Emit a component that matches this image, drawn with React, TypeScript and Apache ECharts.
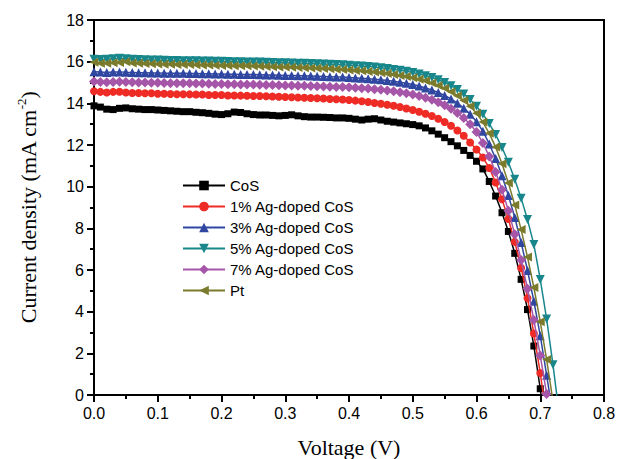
import React, { useEffect, useRef } from "react";
import * as echarts from "echarts";

const voltage = [
  0.0, 0.01, 0.02, 0.03, 0.04, 0.05, 0.06, 0.07, 0.08, 0.09,
  0.1, 0.11, 0.12, 0.13, 0.14, 0.15, 0.16, 0.17, 0.18, 0.19,
  0.2, 0.21, 0.22, 0.23, 0.24, 0.25, 0.26, 0.27, 0.28, 0.29,
  0.3, 0.31, 0.32, 0.33, 0.34, 0.35, 0.36, 0.37, 0.38, 0.39,
  0.4, 0.41, 0.42, 0.43, 0.44, 0.45, 0.46, 0.47, 0.48, 0.49,
  0.5, 0.51, 0.52, 0.53, 0.54, 0.55, 0.56, 0.57, 0.58, 0.59,
  0.6, 0.61, 0.62, 0.63, 0.64, 0.65, 0.66, 0.67, 0.68, 0.69,
  0.7, 0.71, 0.72, 0.73,
];

const seriesNames = [
  "CoS",
  "1% Ag-doped CoS",
  "3% Ag-doped CoS",
  "5% Ag-doped CoS",
  "7% Ag-doped CoS",
  "Pt",
];

const cosJ = [
  13.88, 13.82, 13.72, 13.7, 13.76, 13.78, 13.74, 13.72, 13.7, 13.7,
  13.68, 13.66, 13.64, 13.62, 13.6, 13.6, 13.57, 13.55, 13.52, 13.48,
  13.46, 13.5, 13.58, 13.56, 13.5, 13.46, 13.44, 13.44, 13.42, 13.4,
  13.42, 13.45, 13.4, 13.36, 13.34, 13.34, 13.33, 13.32, 13.3, 13.3,
  13.28, 13.24, 13.2, 13.24, 13.26, 13.2, 13.14, 13.1, 13.06, 13.02,
  12.98, 12.92, 12.82, 12.68, 12.52, 12.35, 12.16, 11.96, 11.74, 11.5,
  11.22, 10.85, 10.25, 9.55, 8.75, 7.85, 6.8, 5.55, 4.1, 2.35,
  0.3, -2.0,
];

const ag1J = [
  14.58, 14.55, 14.52, 14.55, 14.56, 14.52, 14.5, 14.5, 14.48, 14.48,
  14.46, 14.46, 14.45, 14.44, 14.44, 14.43, 14.42, 14.42, 14.4, 14.4,
  14.4, 14.38, 14.38, 14.37, 14.36, 14.35, 14.35, 14.34, 14.33, 14.32,
  14.3, 14.29, 14.28, 14.27, 14.26, 14.24, 14.23, 14.21, 14.2, 14.18,
  14.16, 14.13, 14.1, 14.06, 14.02, 13.98, 13.93, 13.88, 13.82, 13.75,
  13.68, 13.6, 13.5, 13.39, 13.26, 13.1, 12.92, 12.7, 12.44, 12.12,
  11.78, 11.4, 10.9, 10.2, 9.4, 8.45, 7.35, 6.1, 4.65, 2.95,
  1.05, -1.1,
];

const ag3J = [
  15.52, 15.5, 15.48, 15.5, 15.51, 15.49, 15.48, 15.47, 15.47, 15.46,
  15.46, 15.45, 15.45, 15.44, 15.44, 15.43, 15.43, 15.42, 15.42, 15.41,
  15.41, 15.4, 15.4, 15.39, 15.38, 15.38, 15.37, 15.36, 15.36, 15.35,
  15.34, 15.34, 15.33, 15.32, 15.31, 15.3, 15.29, 15.28, 15.27, 15.26,
  15.24, 15.22, 15.2, 15.18, 15.16, 15.13, 15.1, 15.06, 15.01, 14.96,
  14.9, 14.83, 14.74, 14.64, 14.52, 14.38, 14.21, 14.01, 13.77, 13.48,
  13.12, 12.66, 12.05, 11.35, 10.52, 9.58, 8.52, 7.32, 5.98, 4.5,
  2.85, 0.95, -1.0,
];

const ag5J = [
  16.12, 16.1, 16.12, 16.14, 16.16, 16.14, 16.12, 16.1, 16.09, 16.08,
  16.08, 16.07, 16.06, 16.06, 16.05, 16.05, 16.04, 16.03, 16.03, 16.02,
  16.02, 16.01, 16.0, 16.0, 15.99, 15.98, 15.98, 15.97, 15.96, 15.95,
  15.95, 15.94, 15.93, 15.92, 15.91, 15.9, 15.89, 15.88, 15.86, 15.85,
  15.83, 15.81, 15.79, 15.77, 15.74, 15.71, 15.67, 15.63, 15.59, 15.54,
  15.48, 15.41, 15.33, 15.24, 15.13, 15.0, 14.85, 14.67, 14.45, 14.18,
  13.86, 13.48, 13.03, 12.5, 11.88, 11.17, 10.36, 9.45, 8.42, 7.22,
  5.55, 3.65, 1.45, -1.0,
];

const ag7J = [
  15.05, 15.03, 15.01, 15.03, 15.04, 15.02, 15.01, 15.0, 15.0, 14.99,
  14.99, 14.98, 14.97, 14.97, 14.96, 14.96, 14.95, 14.95, 14.94, 14.93,
  14.93, 14.92, 14.92, 14.91, 14.9, 14.9, 14.89, 14.88, 14.88, 14.87,
  14.86, 14.86, 14.85, 14.84, 14.83, 14.82, 14.81, 14.8, 14.79, 14.78,
  14.77, 14.75, 14.73, 14.71, 14.68, 14.65, 14.62, 14.58, 14.53, 14.48,
  14.42, 14.35, 14.27, 14.17, 14.05, 13.91, 13.74, 13.54, 13.3, 13.0,
  12.62, 12.1, 11.45, 10.7, 9.85, 8.85, 7.72, 6.48, 5.1, 3.6,
  1.9, 0.05, -1.9,
];

const ptJ = [
  15.97, 15.93, 15.92, 15.95, 15.96, 16.0, 15.94, 15.92, 15.91, 15.9,
  15.89, 15.88, 15.88, 15.87, 15.86, 15.86, 15.85, 15.84, 15.84, 15.83,
  15.82, 15.82, 15.81, 15.8, 15.8, 15.79, 15.78, 15.77, 15.76, 15.75,
  15.74, 15.73, 15.72, 15.71, 15.7, 15.69, 15.67, 15.66, 15.64, 15.62,
  15.6, 15.58, 15.56, 15.53, 15.5, 15.47, 15.43, 15.39, 15.34, 15.29,
  15.23, 15.16, 15.08, 14.98, 14.86, 14.72, 14.56, 14.37, 14.14, 13.86,
  13.52, 13.1, 12.56, 11.9, 11.1, 10.18, 9.12, 7.94, 6.62, 5.16,
  3.52, 1.7, -0.3,
];

const seriesValues = [cosJ, ag1J, ag3J, ag5J, ag7J, ptJ];

const styles = [
  { color: "#000000", symbol: "rect", size: 7, rotate: 0 },
  { color: "#ee2b25", symbol: "circle", size: 8, rotate: 0 },
  { color: "#2f47a0", symbol: "triangle", size: 9, rotate: 0 },
  { color: "#18878b", symbol: "triangle", size: 9, rotate: 180 },
  { color: "#a656a8", symbol: "diamond", size: 10, rotate: 0 },
  { color: "#7a7b2c", symbol: "triangle", size: 9, rotate: 90 },
];

const SANS = "Liberation Sans, Arial, sans-serif";
const SERIF = "Liberation Serif, Times New Roman, serif";

export default function App() {
  const ref = useRef<HTMLDivElement>(null);
  useEffect(() => {
    const chart = echarts.init(ref.current!, null, { renderer: "svg" });
    const series = seriesNames.map((name, k) => ({
      name,
      type: "line",
      data: seriesValues[k].map((j, i) => [voltage[i], j]),
      symbol: styles[k].symbol,
      symbolSize: styles[k].size,
      symbolRotate: styles[k].rotate,
      showAllSymbol: true,
      clip: true,
      lineStyle: { color: styles[k].color, width: 1.5 },
      itemStyle: { color: styles[k].color },
      z: 2 + k,
    }));
    chart.setOption({
      animation: false,
      backgroundColor: "#ffffff",
      grid: {
        left: 94,
        right: 13,
        top: 20,
        bottom: 64,
        outerBoundsMode: "none",
        containLabel: false,
        show: true,
        borderColor: "#000",
        borderWidth: 2,
        backgroundColor: "transparent",
      },
      legend: {
        orient: "vertical",
        left: 182,
        top: 178,
        padding: 0,
        itemWidth: 42,
        itemHeight: 12,
        itemGap: 6,
        data: seriesNames,
        textStyle: { fontFamily: SANS, fontSize: 15, lineHeight: 15, color: "#000" },
      },
      xAxis: {
        type: "value",
        min: 0,
        max: 0.8,
        interval: 0.1,
        name: "Voltage (V)",
        nameLocation: "middle",
        nameGap: 41,
        nameTextStyle: { fontFamily: SERIF, fontSize: 22, color: "#000" },
        axisLine: { show: true, onZero: false, lineStyle: { color: "#000", width: 2 } },
        axisTick: { show: true, inside: false, length: 7, lineStyle: { color: "#000", width: 2 } },
        minorTick: { show: true, splitNumber: 2, length: 4, lineStyle: { color: "#000", width: 2 } },
        axisLabel: {
          margin: 10,
          fontFamily: SANS,
          fontSize: 16,
          color: "#000",
          formatter: (v: number) => v.toFixed(1),
        },
        splitLine: { show: false },
      },
      yAxis: {
        type: "value",
        min: 0,
        max: 18,
        interval: 2,
        name: "{t|Current density (mA cm}{s|-2}{t|)}",
        nameLocation: "middle",
        nameGap: 55,
        nameRotate: 90,
        nameTextStyle: {
          color: "#000",
          rich: {
            t: { fontFamily: SERIF, fontSize: 22, lineHeight: 24, verticalAlign: "bottom", color: "#000" },
            s: { fontFamily: SERIF, fontSize: 13, lineHeight: 24, verticalAlign: "top", color: "#000" },
          },
        },
        axisLine: { show: true, onZero: false, lineStyle: { color: "#000", width: 2 } },
        axisTick: { show: true, inside: false, length: 7, lineStyle: { color: "#000", width: 2 } },
        minorTick: { show: true, splitNumber: 2, length: 4, lineStyle: { color: "#000", width: 2 } },
        axisLabel: { margin: 10, fontFamily: SANS, fontSize: 16, color: "#000" },
        splitLine: { show: false },
      },
      series,
    });
    return () => chart.dispose();
  }, []);
  return (
    <div
      ref={ref}
      style={{ position: "fixed", left: 0, top: 0, width: 617, height: 459, background: "#fff" }}
    />
  );
}
